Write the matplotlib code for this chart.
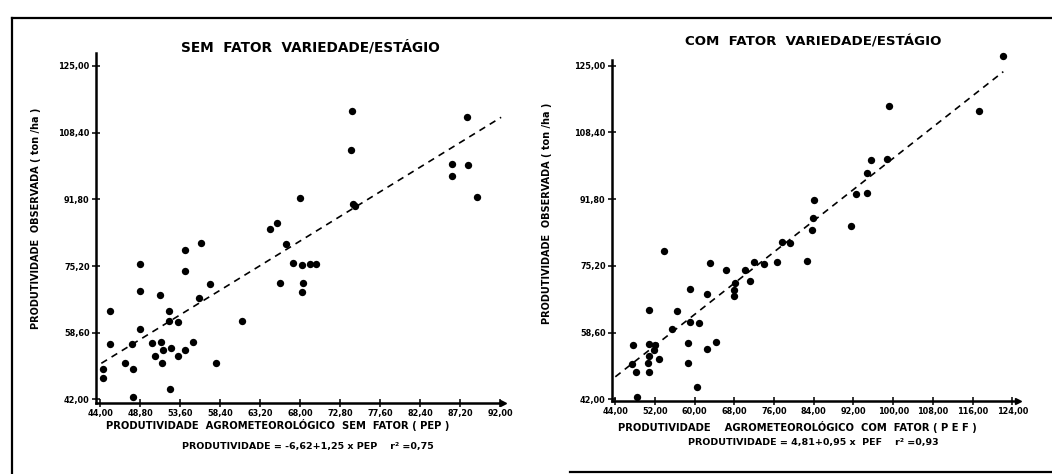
import matplotlib
matplotlib.use("Agg")
import matplotlib.pyplot as plt
from matplotlib.lines import Line2D

# ---------------- data ----------------
# Left panel: SEM FATOR (x = PEP, y = observed)
sem_x = [45.1, 44.3, 44.3, 45.1, 47.0, 47.9, 47.8, 47.9, 48.7, 48.7, 48.8, 50.2,
         50.5, 51.1, 51.3, 51.5, 51.4, 52.2, 52.2, 52.3, 52.5, 53.3, 53.3, 54.1,
         54.1, 54.1, 55.1, 55.8, 56.1, 57.1, 57.9, 61.0, 64.3, 65.2, 65.5, 66.3,
         67.1, 68.2, 69.1, 69.9, 68.3, 68.2, 68.0, 74.2, 74.1, 74.3, 74.6, 88.0,
         86.2, 88.1, 86.2, 89.2]
sem_y = [64.1, 49.7, 47.4, 55.8, 51.1, 49.6, 55.8, 42.5, 75.6, 69.1, 59.5, 56.1,
         52.9, 67.9, 56.2, 54.3, 51.2, 64.1, 61.5, 44.5, 54.9, 61.4, 52.8, 79.2,
         73.9, 54.3, 56.2, 67.3, 80.9, 70.7, 51.0, 61.5, 84.3, 85.9, 71.1, 80.7,
         75.9, 75.5, 75.8, 75.8, 71.1, 68.7, 92.1, 113.8, 104.1, 90.6, 90.2, 112.2,
         100.7, 100.4, 97.7, 92.4]
sem_fit_x = [44.1, 92.1]
sem_fit_y = [51.0, 112.2]

# Right panel: COM FATOR (x = PEF, y = observed)
com_x = [53.9, 47.6, 47.3, 48.1, 48.3, 50.8, 50.7, 50.7, 50.5, 50.7, 52.0, 51.8,
         52.8, 55.5, 56.5, 59.1, 58.6, 58.6, 59.1, 60.9, 60.5, 62.4, 62.5, 64.3,
         63.1, 66.3, 68.1, 68.0, 68.0, 70.1, 71.2, 72.0, 74.0, 76.5, 77.5, 79.2,
         82.6, 83.6, 83.9, 84.1, 91.5, 92.5, 94.7, 94.7, 95.6, 98.7, 99.2, 117.4,
         122.1]
com_y = [79.0, 55.4, 50.7, 48.9, 42.6, 64.2, 55.8, 52.8, 51.0, 48.9, 55.5, 54.3,
         52.1, 59.4, 63.9, 69.4, 56.1, 51.0, 61.2, 61.1, 45.0, 68.2, 54.4, 56.3,
         75.8, 74.1, 70.9, 69.2, 67.8, 74.1, 71.5, 76.1, 75.6, 76.1, 81.1, 80.8,
         76.5, 84.0, 87.0, 91.5, 85.0, 93.0, 93.4, 98.4, 101.5, 101.7, 115.0, 113.7,
         127.3]
com_fit_x = [44.0, 122.2]
com_fit_y = [47.6, 123.5]

y_ticks = [42.0, 58.6, 75.2, 91.8, 108.4, 125.0]
sem_xticks = [44.0, 48.8, 53.6, 58.4, 63.2, 68.0, 72.8, 77.6, 82.4, 87.2, 92.0]
com_xticks = [44.0, 52.0, 60.0, 68.0, 76.0, 84.0, 92.0, 100.0, 108.0, 116.0, 124.0]

titles = ["SEM  FATOR  VARIEDADE/ESTÁGIO", "COM  FATOR  VARIEDADE/ESTÁGIO"]
ylabel = "PRODUTIVIDADE  OBSERVADA ( ton /ha )"
xlabels = ["PRODUTIVIDADE  AGROMETEOROLÓGICO  SEM  FATOR ( PEP )",
           "PRODUTIVIDADE    AGROMETEOROLÓGICO  COM  FATOR ( P E F )"]
eqs = ["PRODUTIVIDADE = -6,62+1,25 x PEP    r² =0,75",
       "PRODUTIVIDADE = 4,81+0,95 x  PEF    r² =0,93"]

# ---------------- figure ----------------
W, H = 1052, 474
fig = plt.figure(figsize=(W / 100, H / 100), dpi=100)
fig.patch.set_facecolor("white")

def fx(px):
    return px / W

def fy(py):
    return 1 - py / H

# scanned-page frame lines
fig.add_artist(Line2D([fx(12), fx(1052)], [fy(18), fy(18)], color="black", lw=1.6))
fig.add_artist(Line2D([fx(12), fx(12)], [fy(18), fy(474)], color="black", lw=1.6))
fig.add_artist(Line2D([fx(570), fx(1052)], [fy(472), fy(472)], color="black", lw=1.6))

def fmt(v):
    return f"{v:.2f}".replace(".", ",")

def make_panel(box, xlim, ylim, xs, ys, fitx, fity, xticks):
    left, bottom_px, right, top_px = box
    ax = fig.add_axes([fx(left), fy(bottom_px), fx(right - left), (bottom_px - top_px) / H])
    ax.set_xlim(*xlim)
    ax.set_ylim(*ylim)
    for s in ["top", "right"]:
        ax.spines[s].set_visible(False)
    for s in ["left", "bottom"]:
        ax.spines[s].set_linewidth(1.8)
        ax.spines[s].set_color("black")
    ax.set_facecolor("none")
    ax.scatter(xs, ys, s=28, color="black", zorder=3, clip_on=False, linewidths=0)
    ax.plot(fitx, fity, color="black", lw=1.2, dashes=(4, 3.2), zorder=2)
    ax.set_xticks(xticks)
    ax.set_xticklabels([fmt(v) for v in xticks], fontsize=5.9, fontweight="bold")
    ax.set_yticks(y_ticks)
    ax.set_yticklabels([fmt(v) for v in y_ticks], fontsize=5.9, fontweight="bold")
    ax.tick_params(axis="both", direction="inout", length=6, width=1.1, pad=1.5)
    # arrow head at end of x axis
    ax.plot([1.0], [0.0], marker=">", color="black", markersize=4,
            transform=ax.transAxes, clip_on=False)
    return ax

make_panel((96, 402.7, 502.8, 53), (43.46, 92.3), (41.2, 128.2),
           sem_x, sem_y, sem_fit_x, sem_fit_y, sem_xticks)
make_panel((612, 401, 1017.7, 60), (43.33, 125.1), (41.58, 126.4),
           com_x, com_y, com_fit_x, com_fit_y, com_xticks)

# titles
fig.text(fx(310), fy(47), titles[0], ha="center", va="center", fontsize=9.8, fontweight="bold")
fig.text(fx(813), fy(42), titles[1], ha="center", va="center", fontsize=9.6, fontweight="bold")

# y labels
fig.text(fx(36), fy(218), ylabel, ha="center", va="center", rotation=90, fontsize=7.0, fontweight="bold")
fig.text(fx(547), fy(213), ylabel, ha="center", va="center", rotation=90, fontsize=7.0, fontweight="bold")

# x labels and equations
fig.text(fx(278), fy(425), xlabels[0], ha="center", va="center", fontsize=7.2, fontweight="bold")
fig.text(fx(308), fy(447), eqs[0], ha="center", va="center", fontsize=6.8, fontweight="bold")
fig.text(fx(797), fy(427), xlabels[1], ha="center", va="center", fontsize=7.2, fontweight="bold")
fig.text(fx(813), fy(443), eqs[1], ha="center", va="center", fontsize=6.8, fontweight="bold")

fig.savefig("out.png", dpi=100, facecolor="white")
